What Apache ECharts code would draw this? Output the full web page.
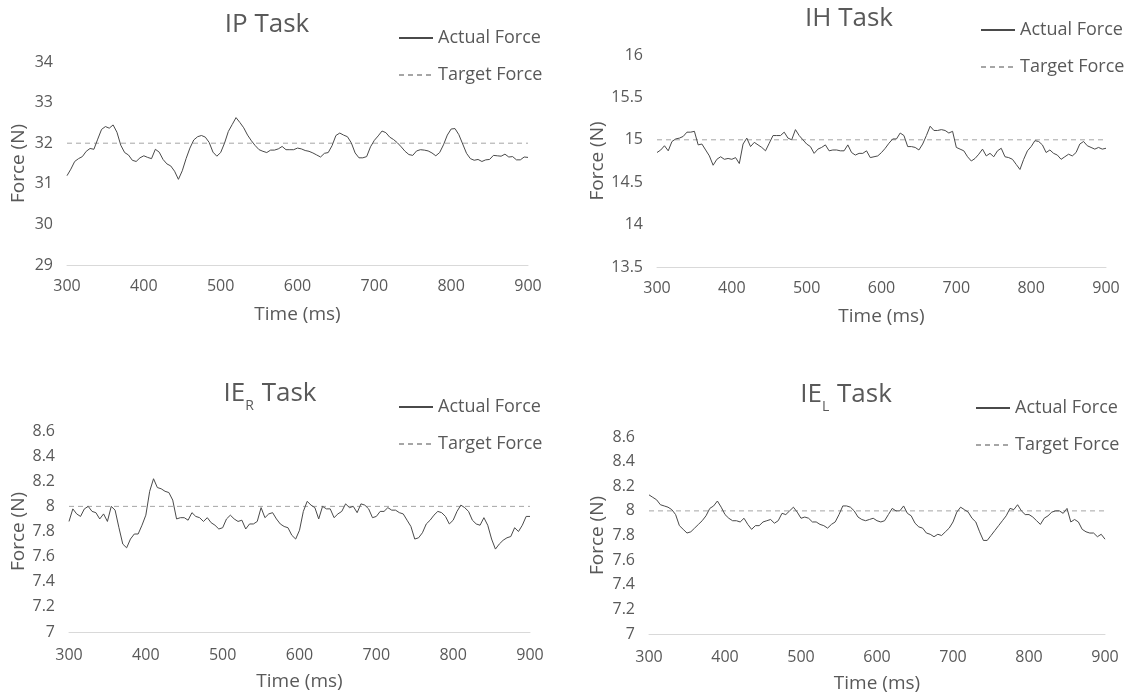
<!DOCTYPE html>
<html>
<head>
<meta charset="utf-8">
<script src="https://cdn.jsdelivr.net/npm/echarts@6/dist/echarts.min.js"></script>
<style>
html,body{margin:0;padding:0;background:#fff;}
#chart{width:1128px;height:694px;}
</style>
</head>
<body>
<div id="chart"></div>
<script>
// ---- data ----
const startMs = 300;
const stepMs = 5;
const xTicks = {min: 300, max: 900, interval: 100};

const ipValues = [
31.20,31.36,31.55,31.62,31.67,31.80,31.87,31.85,32.10,32.34,
32.41,32.37,32.45,32.27,31.95,31.77,31.71,31.58,31.55,31.64,
31.69,31.65,31.62,31.85,31.78,31.60,31.49,31.44,31.31,31.11,
31.32,31.62,31.88,32.08,32.16,32.19,32.15,32.02,31.78,31.68,
31.77,32.00,32.29,32.46,32.63,32.51,32.38,32.20,32.06,31.94,
31.84,31.80,31.77,31.83,31.83,31.86,31.92,31.84,31.84,31.84,
31.88,31.86,31.82,31.80,31.76,31.71,31.66,31.75,31.77,31.94,
32.19,32.25,32.20,32.16,32.01,31.76,31.64,31.64,31.67,31.91,
32.07,32.18,32.30,32.26,32.15,32.09,32.01,31.91,31.80,31.72,
31.70,31.81,31.84,31.83,31.81,31.76,31.69,31.77,31.96,32.20,
32.35,32.36,32.21,31.98,31.75,31.62,31.58,31.60,31.55,31.59,
31.60,31.70,31.69,31.68,31.73,31.66,31.67,31.59,31.59,31.66,
31.65];

const ihValues = [
14.85,14.88,14.93,14.87,14.98,15.01,15.02,15.04,15.09,15.09,
15.10,14.94,14.95,14.88,14.81,14.70,14.77,14.80,14.77,14.78,
14.77,14.79,14.72,14.95,15.02,14.92,14.97,14.94,14.91,14.87,
14.96,15.05,15.05,15.05,15.09,15.02,15.00,15.12,15.05,15.00,
14.95,14.92,14.84,14.89,14.91,14.94,14.87,14.88,14.88,14.87,
14.87,14.94,14.85,14.82,14.84,14.84,14.87,14.79,14.80,14.81,
14.85,14.90,14.96,15.01,15.01,15.08,15.05,14.92,14.92,14.91,
14.88,14.95,15.05,15.16,15.11,15.11,15.12,15.11,15.08,15.10,
14.91,14.89,14.87,14.80,14.75,14.78,14.83,14.89,14.81,14.84,
14.80,14.87,14.90,14.80,14.79,14.77,14.71,14.65,14.77,14.87,
14.92,14.99,14.98,14.94,14.85,14.88,14.84,14.82,14.77,14.80,
14.83,14.81,14.85,14.95,14.98,14.93,14.91,14.89,14.91,14.89,
14.90];

const ierValues = [
7.88,7.98,7.94,7.92,7.98,8.00,7.96,7.95,7.90,7.94,
7.88,8.00,7.97,7.83,7.70,7.67,7.74,7.78,7.78,7.85,
7.93,8.12,8.22,8.15,8.14,8.12,8.11,8.05,7.90,7.91,
7.91,7.89,7.95,7.92,7.91,7.88,7.91,7.87,7.85,7.82,
7.83,7.90,7.93,7.90,7.88,7.89,7.82,7.86,7.86,7.88,
7.99,7.91,7.94,7.95,7.90,7.86,7.84,7.83,7.77,7.74,
7.81,7.96,8.04,8.01,7.99,7.90,8.00,7.98,7.98,7.91,
7.94,7.96,8.02,7.99,8.00,7.95,8.02,8.01,7.98,7.91,
7.92,7.96,7.96,7.99,7.97,7.97,7.95,7.94,7.89,7.84,
7.74,7.75,7.79,7.86,7.89,7.93,7.96,7.95,7.92,7.86,
7.89,7.96,8.01,7.99,7.96,7.89,7.86,7.85,7.91,7.85,
7.74,7.66,7.70,7.73,7.75,7.76,7.83,7.80,7.85,7.92,
7.92];

const ielValues = [
8.13,8.11,8.09,8.05,8.04,8.03,8.01,7.97,7.88,7.85,
7.82,7.83,7.86,7.89,7.92,7.96,8.02,8.04,8.08,8.03,
7.97,7.94,7.92,7.92,7.91,7.94,7.89,7.85,7.88,7.88,
7.91,7.92,7.93,7.90,7.92,7.98,7.97,8.00,8.03,7.99,
7.94,7.95,7.94,7.91,7.91,7.89,7.88,7.86,7.89,7.91,
7.97,8.04,8.04,8.03,8.00,7.95,7.93,7.92,7.93,7.94,
7.92,7.91,7.92,7.97,8.02,8.00,8.00,8.04,7.98,7.96,
7.90,7.87,7.86,7.82,7.81,7.79,7.81,7.80,7.83,7.86,
7.91,7.99,8.03,8.01,7.99,7.94,7.91,7.83,7.76,7.76,
7.80,7.84,7.88,7.92,7.96,8.02,8.01,8.05,8.00,7.97,
7.97,7.95,7.92,7.89,7.94,7.96,7.99,8.00,8.00,7.98,
8.02,7.91,7.93,7.91,7.85,7.83,7.82,7.82,7.79,7.81,
7.77];

const targetValues = [32, 15, 8, 8];
const yRanges = [
  {min: 29, max: 34, interval: 1},
  {min: 13.5, max: 16, interval: 0.5},
  {min: 7, max: 8.6, interval: 0.2},
  {min: 7, max: 8.6, interval: 0.2}
];
const panelTitles = ['IP Task', 'IH Task', '{m|IE}{s|R}{m| Task}', '{m|IE}{s|L}{m| Task}'];
const seriesNames = ['Actual Force', 'Target Force'];
const xName = 'Time (ms)';
const yName = 'Force (N)';
const allValues = [ipValues, ihValues, ierValues, ielValues];

// ---- layout ----
const FONT = 'Open Sans';
const TXT = '#595959';
const grids = [
  {left: 67, top: 62, width: 461, height: 203},
  {left: 657, top: 55, width: 449, height: 212},
  {left: 69, top: 431, width: 461, height: 201},
  {left: 649, top: 437, width: 456, height: 198}
];
const titlePos = [
  {x: 267, y: 10}, {x: 849, y: 4}, {x: 270, y: 381}, {x: 846, y: 382}
];
const legendPos = [
  {x: 398, y: 29}, {x: 980, y: 21}, {x: 398, y: 398}, {x: 975, y: 399}
];
const yNameGaps = [39, 49, 41, 42];
const xLabelMargins = [13, 13, 15, 15];

const option = {
  animation: false,
  backgroundColor: '#ffffff',
  textStyle: {fontFamily: FONT},
  title: panelTitles.map((t, i) => ({
    text: t,
    left: titlePos[i].x,
    top: titlePos[i].y,
    textAlign: 'center',
    padding: 0,
    textStyle: {
      fontFamily: FONT, fontSize: 26, fontWeight: 'normal', color: TXT, lineHeight: 30,
      rich: {
        m: {fontFamily: FONT, fontSize: 26, color: TXT, lineHeight: 30, verticalAlign: 'top'},
        s: {fontFamily: FONT, fontSize: 14, color: TXT, lineHeight: 16, verticalAlign: 'top', padding: [18, 1, 0, 0]}
      }
    }
  })),
  legend: legendPos.map((p) => ({
    data: seriesNames,
    orient: 'vertical',
    left: p.x,
    top: p.y,
    itemWidth: 34,
    itemHeight: 14,
    itemGap: 19,
    padding: 0,
    selectedMode: false,
    itemStyle: {opacity: 0},
    textStyle: {fontFamily: FONT, fontSize: 18, color: TXT}
  })),
  grid: grids.map(g => Object.assign({containLabel: false}, g)),
  xAxis: grids.map((g, i) => ({
    type: 'value',
    gridIndex: i,
    min: xTicks.min, max: xTicks.max, interval: xTicks.interval,
    name: xName,
    nameLocation: 'middle',
    nameGap: 40,
    nameTextStyle: {fontFamily: FONT, fontSize: 19, color: TXT},
    axisLine: {show: true, onZero: false, lineStyle: {color: '#d9d9d9', width: 1}},
    axisTick: {show: false},
    splitLine: {show: false},
    axisLabel: {fontFamily: FONT, fontSize: 16, color: TXT, margin: xLabelMargins[i]}
  })),
  yAxis: grids.map((g, i) => ({
    type: 'value',
    gridIndex: i,
    min: yRanges[i].min, max: yRanges[i].max, interval: yRanges[i].interval,
    name: yName,
    nameLocation: 'middle',
    nameGap: yNameGaps[i],
    nameRotate: 90,
    nameTextStyle: {fontFamily: FONT, fontSize: 19, color: TXT},
    axisLine: {show: false},
    axisTick: {show: false},
    splitLine: {show: false},
    axisLabel: {fontFamily: FONT, fontSize: 16, color: TXT, margin: 14}
  })),
  series: []
};

allValues.forEach((vals, i) => {
  option.series.push({
    name: seriesNames[0],
    type: 'line',
    xAxisIndex: i, yAxisIndex: i,
    data: vals.map((v, k) => [startMs + k * stepMs, v]),
    symbol: 'none',
    lineStyle: {color: '#4a4a4a', width: 1},
    itemStyle: {color: '#4a4a4a'},
    z: 3
  });
  option.series.push({
    name: seriesNames[1],
    type: 'line',
    xAxisIndex: i, yAxisIndex: i,
    data: [[xTicks.min, targetValues[i]], [xTicks.max, targetValues[i]]],
    symbol: 'none',
    lineStyle: {color: '#a6a6a6', width: 1, type: [5, 4]},
    itemStyle: {color: '#a6a6a6'},
    z: 2
  });
});

const chart = echarts.init(document.getElementById('chart'), null, {renderer: 'canvas'});
chart.setOption(option);
</script>
</body>
</html>
